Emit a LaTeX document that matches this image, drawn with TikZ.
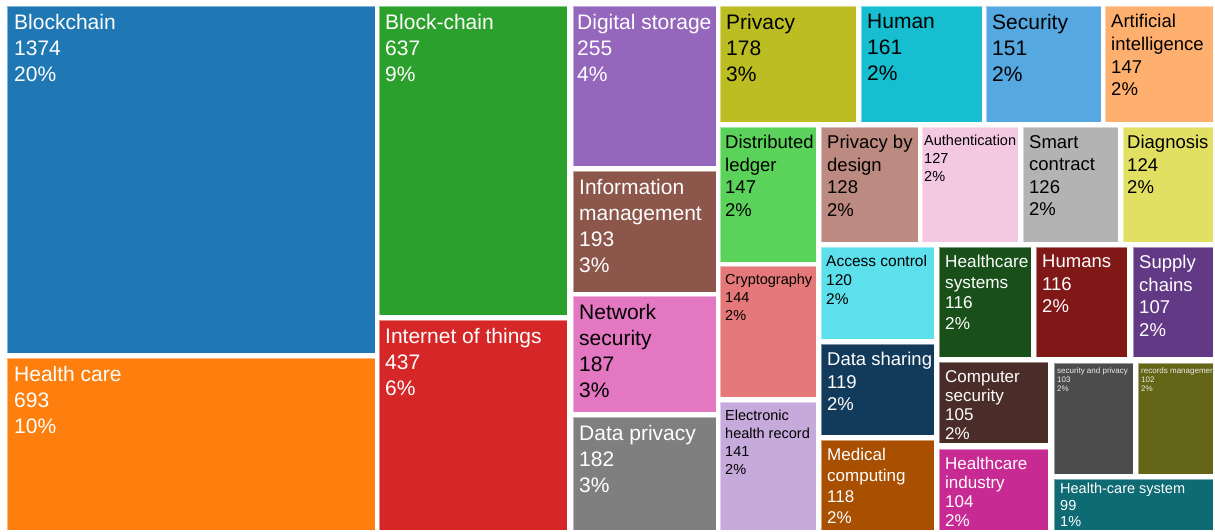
\documentclass[tikz,border=0pt]{standalone}
\usepackage{fontspec}
\setmainfont{Liberation Sans}
\usepackage{tikz}
\definecolor{cBlockchain}{HTML}{1F77B4}
\definecolor{cHealthcare}{HTML}{FF7F0E}
\definecolor{cBlockchainB}{HTML}{2CA02C}
\definecolor{cIot}{HTML}{D62728}
\definecolor{cStorage}{HTML}{9467BD}
\definecolor{cInfo}{HTML}{8C564B}
\definecolor{cNetsec}{HTML}{E377C2}
\definecolor{cDataprivacy}{HTML}{7F7F7F}
\definecolor{cPrivacy}{HTML}{BCBD22}
\definecolor{cHuman}{HTML}{17BECF}
\definecolor{cSecurity}{HTML}{56A8E0}
\definecolor{cAi}{HTML}{FFB06F}
\definecolor{cLedger}{HTML}{5BD35B}
\definecolor{cPbd}{HTML}{BC8A80}
\definecolor{cAuth}{HTML}{F4C8E3}
\definecolor{cSmart}{HTML}{B3B3B3}
\definecolor{cDiag}{HTML}{E2E063}
\definecolor{cCrypto}{HTML}{E57878}
\definecolor{cEhr}{HTML}{C6AADB}
\definecolor{cAccess}{HTML}{5CE0EC}
\definecolor{cHcsys}{HTML}{19501A}
\definecolor{cHumans}{HTML}{811818}
\definecolor{cSupply}{HTML}{623985}
\definecolor{cSharing}{HTML}{123A5B}
\definecolor{cCompsec}{HTML}{4A2D29}
\definecolor{cMedcomp}{HTML}{A84F00}
\definecolor{cHcind}{HTML}{C82A94}
\definecolor{cSecpriv}{HTML}{4C4C4C}
\definecolor{cRecords}{HTML}{646516}
\definecolor{cHcsystem}{HTML}{0F6B73}
\tikzset{
  cell/.style={draw=white, draw opacity=0.45, line width=0.8pt},
  lbl/.style 2 args={anchor=north west, inner sep=0pt, align=left, xshift=6pt, yshift=-8pt, font=\fontsize{#1}{#2}\selectfont},
  big/.style={lbl={21}{26}},
  mid/.style={lbl={18.5}{22.5}},
  sml/.style={lbl={17}{20}},
  tny/.style={lbl={14.5}{18}}
}
\begin{document}
\begin{tikzpicture}[x=1pt,y=-1pt]
    \useasboundingbox (0,0) rectangle (1215,531);
    \draw[cell, fill=cBlockchain] (7,6) rectangle (375,353);
    \node[big, white, xshift=1pt] (blockchain) at (7,6) {Blockchain\\1374\\20\%};
    \draw[cell, fill=cHealthcare] (7,358) rectangle (375,530);
    \node[big, white, xshift=1pt] (healthcare) at (7,358) {Health care\\693\\10\%};
    \draw[cell, fill=cBlockchainB] (379,6) rectangle (567,315);
    \node[big, white] (blockchainb) at (379,6) {Block-chain\\637\\9\%};
    \draw[cell, fill=cIot] (379,320) rectangle (567,530);
    \node[big, white] (iot) at (379,320) {Internet of things\\437\\6\%};
    \draw[cell, fill=cStorage] (573,6) rectangle (716,166);
    \node[big, white, xshift=-2pt] (storage) at (573,6) {Digital storage\\255\\4\%};
    \draw[cell, fill=cInfo] (573,171) rectangle (716,292);
    \node[big, white] (info) at (573,171) {Information\\management\\193\\3\%};
    \draw[cell, fill=cNetsec] (573,296) rectangle (716,412);
    \node[big, black] (netsec) at (573,296) {Network\\security\\187\\3\%};
    \draw[cell, fill=cDataprivacy] (573,417) rectangle (716,530);
    \node[big, white] (dataprivacy) at (573,417) {Data privacy\\182\\3\%};
    \draw[cell, fill=cPrivacy] (720,6) rectangle (856,122);
    \node[big, black] (privacy) at (720,6) {Privacy\\178\\3\%};
    \draw[cell, fill=cHuman] (861,6) rectangle (982,122);
    \node[big, black] (human) at (861,6) {Human\\161\\2\%};
    \draw[cell, fill=cSecurity] (986,6) rectangle (1101,122);
    \node[big, black] (security) at (986,6) {Security\\151\\2\%};
    \draw[cell, fill=cAi] (1105,6) rectangle (1213,122);
    \node[lbl={18.5}{22.7}, black] (ai) at (1105,6) {Artificial\\intelligence\\147\\2\%};
    \draw[cell, fill=cLedger] (720,127) rectangle (816,262);
    \node[mid, black, xshift=-1pt] (ledger) at (720,127) {Distributed\\ledger\\147\\2\%};
    \draw[cell, fill=cCrypto] (720,266) rectangle (816,397);
    \node[tny, black, xshift=-1pt] (crypto) at (720,266) {Cryptography\\144\\2\%};
    \draw[cell, fill=cEhr] (720,402) rectangle (816,530);
    \node[tny, black, xshift=-1pt] (ehr) at (720,402) {Electronic\\health record\\141\\2\%};
    \draw[cell, fill=cPbd] (821,127) rectangle (918,242);
    \node[mid, black] (pbd) at (821,127) {Privacy by\\design\\128\\2\%};
    \draw[cell, fill=cAuth] (922,127) rectangle (1018,242);
    \node[tny, black, xshift=-4pt] (auth) at (922,127) {Authentication\\127\\2\%};
    \draw[cell, fill=cSmart] (1023,127) rectangle (1118,242);
    \node[mid, black] (smart) at (1023,127) {Smart\\contract\\126\\2\%};
    \draw[cell, fill=cDiag] (1123,127) rectangle (1213,242);
    \node[mid, black, xshift=-2pt] (diag) at (1123,127) {Diagnosis\\124\\2\%};
    \draw[cell, fill=cAccess] (821,247) rectangle (934,339);
    \node[lbl={15.5}{19}, black, xshift=-1pt] (access) at (821,247) {Access control\\120\\2\%};
    \draw[cell, fill=cSharing] (821,344) rectangle (934,435);
    \node[mid, white] (sharing) at (821,344) {Data sharing\\119\\2\%};
    \draw[cell, fill=cMedcomp] (821,440) rectangle (934,530);
    \node[lbl={17}{21}, white] (medcomp) at (821,440) {Medical\\computing\\118\\2\%};
    \draw[cell, fill=cHcsys] (939,247) rectangle (1031,357);
    \node[lbl={17.2}{20.5}, white] (hcsys) at (939,247) {Healthcare\\systems\\116\\2\%};
    \draw[cell, fill=cHumans] (1036,247) rectangle (1127,357);
    \node[mid, white] (humans) at (1036,247) {Humans\\116\\2\%};
    \draw[cell, fill=cSupply] (1133,247) rectangle (1213,357);
    \node[mid, white] (supply) at (1133,247) {Supply\\chains\\107\\2\%};
    \draw[cell, fill=cCompsec] (939,362) rectangle (1048,443);
    \node[lbl={17}{19}, white] (compsec) at (939,362) {Computer\\security\\105\\2\%};
    \draw[cell, fill=cHcind] (939,449) rectangle (1048,530);
    \node[lbl={17}{19}, white] (hcind) at (939,449) {Healthcare\\industry\\104\\2\%};
    \draw[cell, fill=cSecpriv] (1054,363) rectangle (1133,474);
    \node[lbl={8}{9}, white!85!gray, xshift=-3pt, yshift=4pt] (secpriv) at (1054,363) {security and privacy\\103\\2\%};
    \draw[cell, fill=cRecords] (1138,363) rectangle (1213,474);
    \begin{scope}
        \clip (1138,363) rectangle (1212,474);
        \node[lbl={8}{9}, white!85!gray, xshift=-3pt, yshift=4pt] (records) at (1138,363) {records management\\102\\2\%};
    \end{scope}
    \draw[cell, fill=cHcsystem] (1054,479) rectangle (1213,530);
    \node[lbl={14.5}{16.5}, white, yshift=4pt] (hcsystem) at (1054,479) {Health-care system\\99\\1\%};
\end{tikzpicture}
\end{document}
